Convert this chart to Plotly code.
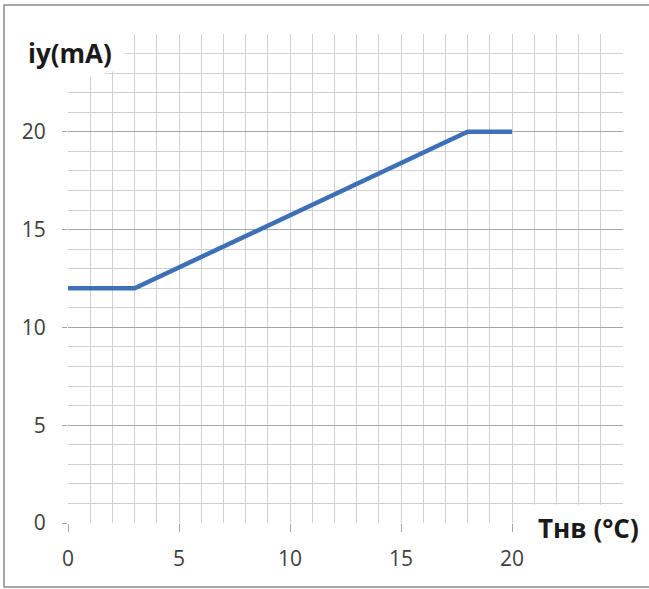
import plotly.graph_objects as go

# Data
temp_c = [0, 3, 18, 20]
current_ma = [12, 12, 20, 20]
x_tick_vals = [0, 5, 10, 15, 20]
y_tick_vals = [0, 5, 10, 15, 20]
x_title = "Тнв (°C)"
y_title = "iy(mA)"

W, H = 649, 589
L, R, T, B = 68, 26, 34, 66
pw, ph = W - L - R, H - T - B


def px_x(p):
    return (p - L) / pw


def px_y(p):
    return (H - B - p) / ph


fig = go.Figure()
fig.add_trace(go.Scatter(
    x=temp_c, y=current_ma, mode="lines",
    line=dict(color="#3e70b8", width=4.5),
    hoverinfo="skip", showlegend=False,
))

minor_grid = "#d0d0d0"
major_grid = "#a6a6a6"

fig.update_xaxes(
    range=[0, 25], tickvals=x_tick_vals, ticks="outside", ticklen=8,
    tickcolor=major_grid, tickwidth=1.4,
    showgrid=True, gridcolor=minor_grid, gridwidth=1.4,
    minor=dict(tick0=0, dtick=1, ticks="", showgrid=True, gridcolor=minor_grid, gridwidth=1.4),
    showline=False, zeroline=False,
    tickfont=dict(family="Open Sans", size=21, color="#404040"),
    ticklabelstandoff=9,
)
fig.update_yaxes(
    range=[0, 25], tickvals=y_tick_vals, ticks="outside", ticklen=5,
    tickcolor=major_grid, tickwidth=1.4,
    showgrid=True, gridcolor=major_grid, gridwidth=1.4,
    minor=dict(tick0=0, dtick=1, ticks="", showgrid=True, gridcolor=minor_grid, gridwidth=1.4),
    showline=False, zeroline=False,
    tickfont=dict(family="Open Sans", size=21, color="#404040"),
    ticklabelstandoff=12,
)

shapes = [
    # white masks where labels sit
    dict(type="rect", xref="x", yref="y", x0=20.6, x1=26, y0=-0.5, y1=0.93,
         fillcolor="white", line=dict(width=0), layer="above"),
    dict(type="rect", xref="x", yref="y", x0=-1, x1=2.57, y0=23.08, y1=26,
         fillcolor="white", line=dict(width=0), layer="above"),
    dict(type="rect", xref="x", yref="y", x0=-1, x1=1.67, y0=22.82, y1=26,
         fillcolor="white", line=dict(width=0), layer="above"),
    # outer frame
    dict(type="rect", xref="paper", yref="paper",
         x0=px_x(4), x1=px_x(652), y0=px_y(587), y1=px_y(5),
         fillcolor="rgba(0,0,0,0)", line=dict(color="#8a8a8a", width=1.5), layer="above"),
]

annotations = [
    dict(text=y_title, xref="paper", yref="paper", x=px_x(70), y=px_y(53),
         xanchor="center", yanchor="middle", showarrow=False,
         font=dict(family="Open Sans", size=26, color="#1a1a1a", weight="bold")),
    dict(text=x_title, xref="paper", yref="paper", x=px_x(588), y=px_y(528),
         xanchor="center", yanchor="middle", showarrow=False,
         font=dict(family="Open Sans", size=26, color="#1a1a1a", weight="bold")),
]

fig.update_layout(
    width=W, height=H,
    margin=dict(l=L, r=R, t=T, b=B, pad=0),
    paper_bgcolor="white", plot_bgcolor="white",
    shapes=shapes, annotations=annotations,
    showlegend=False,
)

fig.write_html("out.html", config={"displayModeBar": False},
               post_script="document.body.style.margin='0';")
